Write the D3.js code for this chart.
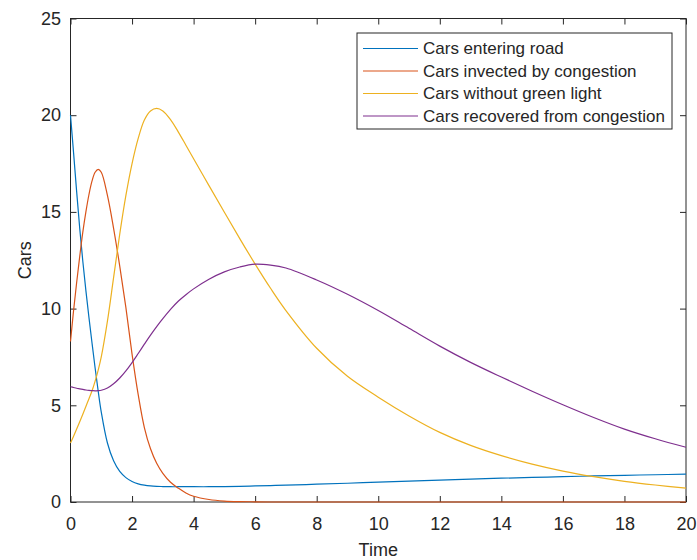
<!DOCTYPE html>
<html>
<head>
<meta charset="utf-8">
<script src="https://cdn.jsdelivr.net/npm/d3@7"></script>
<style>
  body { margin: 0; background: #fff; }
  svg { display: block; font-family: "Liberation Sans", Arial, sans-serif; }
</style>
</head>
<body>
<div id="chart"></div>
<script>
// sample times
const time = [0, 0.1, 0.2, 0.3, 0.4, 0.5, 0.6, 0.7, 0.8, 0.9, 1.0,
  1.2, 1.4, 1.6, 1.8, 2.0, 2.2, 2.4, 2.6, 2.8, 3.0,
  3.25, 3.5, 3.75, 4,
  4.5, 5, 5.5, 6, 6.5, 7,
  8, 9, 10, 11, 12, 13, 14, 15, 16, 17, 18, 19, 20];

const entering = [20.0, 18.05, 16.05, 14.15, 12.45, 10.93, 9.53, 8.21, 6.93, 5.73, 4.65,
  3.05, 2.13, 1.58, 1.26, 1.06, 0.94, 0.87, 0.83, 0.81, 0.80,
  0.79, 0.79, 0.79, 0.79,
  0.79, 0.80, 0.81, 0.83, 0.85, 0.87,
  0.92, 0.97, 1.03, 1.08, 1.13, 1.18, 1.23, 1.27, 1.31, 1.35, 1.38, 1.41, 1.44];

const invected = [8.3, 9.9, 11.35, 12.7, 13.95, 15.0, 15.9, 16.6, 17.05, 17.2, 17.05,
  15.85, 14.15, 12.2, 10.05, 7.65, 5.55, 3.85, 2.75, 2.0, 1.48,
  1.02, 0.72, 0.47, 0.3,
  0.13, 0.05, 0.02, 0.01, 0, 0,
  0, 0, 0, 0, 0, 0, 0, 0, 0, 0, 0, 0, 0];

const noGreen = [3.05, 3.4, 3.77, 4.15, 4.54, 4.94, 5.34, 5.75, 6.25, 6.82, 7.5,
  9.35, 11.6, 13.85, 15.85, 17.5, 18.8, 19.75, 20.22, 20.35, 20.22,
  19.77, 19.14, 18.45, 17.75,
  16.36, 14.98, 13.62, 12.3, 11.05, 9.9,
  7.95, 6.5, 5.42, 4.45, 3.6, 2.93, 2.4, 1.96, 1.6, 1.31, 1.07, 0.88, 0.72];

const recovered = [5.96, 5.92, 5.88, 5.85, 5.82, 5.79, 5.77, 5.76, 5.75, 5.76, 5.78,
  5.89, 6.11, 6.41, 6.78, 7.21, 7.68, 8.16, 8.63, 9.07, 9.48,
  9.96, 10.38, 10.72, 11.02,
  11.52, 11.9, 12.15, 12.3, 12.25, 12.1,
  11.48, 10.74, 9.9, 8.98, 8.06, 7.22, 6.46, 5.73, 5.03, 4.37, 3.77, 3.27, 2.83];

const seriesNames = ['Cars entering road', 'Cars invected by congestion', 'Cars without green light', 'Cars recovered from congestion'];
const seriesValues = [entering, invected, noGreen, recovered];
const colors = ['#0072BD', '#D95319', '#EDB120', '#7E2F8E'];

const xTicks = [0, 2, 4, 6, 8, 10, 12, 14, 16, 18, 20];
const yTicks = [0, 5, 10, 15, 20, 25];

const width = 697, height = 560;
const margin = { top: 18.5, right: 11, bottom: 58, left: 70.5 };
const axisColor = '#262626';

const svg = d3.select('#chart').append('svg')
  .attr('width', width)
  .attr('height', height);

const x = d3.scaleLinear().domain([0, 20]).range([margin.left, width - margin.right]);
const y = d3.scaleLinear().domain([0, 25]).range([height - margin.bottom, margin.top]);

function styleAxis(g) {
  g.select('.domain').remove();
  g.selectAll('line').attr('stroke', axisColor);
  g.selectAll('text').attr('fill', axisColor).style('font-size', '18px');
}

// bottom / left with labels, top / right ticks only
svg.append('g')
  .attr('transform', `translate(0,${y(0)})`)
  .call(d3.axisBottom(x).tickValues(xTicks).tickSizeInner(-6).tickSizeOuter(0).tickPadding(15))
  .call(styleAxis);
svg.append('g')
  .attr('transform', `translate(${x(0)},0)`)
  .call(d3.axisLeft(y).tickValues(yTicks).tickSizeInner(-6).tickSizeOuter(0).tickPadding(9.5))
  .call(styleAxis);
svg.append('g')
  .attr('transform', `translate(0,${y(25)})`)
  .call(d3.axisTop(x).tickValues(xTicks).tickSizeInner(-6).tickSizeOuter(0).tickFormat(''))
  .call(styleAxis);
svg.append('g')
  .attr('transform', `translate(${x(20)},0)`)
  .call(d3.axisRight(y).tickValues(yTicks).tickSizeInner(-6).tickSizeOuter(0).tickFormat(''))
  .call(styleAxis);

// box
svg.append('rect')
  .attr('x', x(0)).attr('y', y(25))
  .attr('width', x(20) - x(0)).attr('height', y(0) - y(25))
  .attr('fill', 'none')
  .attr('stroke', axisColor)
  .attr('stroke-width', 1);

// lines
const line = d3.line()
  .x((d, i) => x(time[i]))
  .y(d => y(d))
  .curve(d3.curveCatmullRom.alpha(0.5));

seriesValues.forEach((vals, i) => {
  svg.append('path')
    .datum(vals)
    .attr('fill', 'none')
    .attr('stroke', colors[i])
    .attr('stroke-width', 1.2)
    .attr('d', line);
});

// axis titles
svg.append('text')
  .attr('x', (x(0) + x(20)) / 2)
  .attr('y', 556)
  .attr('text-anchor', 'middle')
  .attr('fill', axisColor)
  .style('font-size', '18px')
  .text('Time');

svg.append('text')
  .attr('transform', `translate(31,${(y(0) + y(25)) / 2}) rotate(-90)`)
  .attr('text-anchor', 'middle')
  .attr('fill', axisColor)
  .style('font-size', '18px')
  .text('Cars');

// legend
const legend = svg.append('g').attr('transform', 'translate(357,33)');
legend.append('rect')
  .attr('width', 315).attr('height', 96)
  .attr('fill', '#fff')
  .attr('stroke', axisColor)
  .attr('stroke-width', 1);

const rows = legend.selectAll('.row')
  .data(seriesNames)
  .join('g')
  .attr('class', 'row')
  .attr('transform', (d, i) => `translate(0,${15.5 + i * 22.5})`);

rows.append('line')
  .attr('x1', 6).attr('x2', 61)
  .attr('stroke', (d, i) => colors[i])
  .attr('stroke-width', 1.2);

rows.append('text')
  .attr('x', 66)
  .attr('dy', '0.35em')
  .attr('fill', axisColor)
  .style('font-size', '17px')
  .text(d => d);
</script>
</body>
</html>
